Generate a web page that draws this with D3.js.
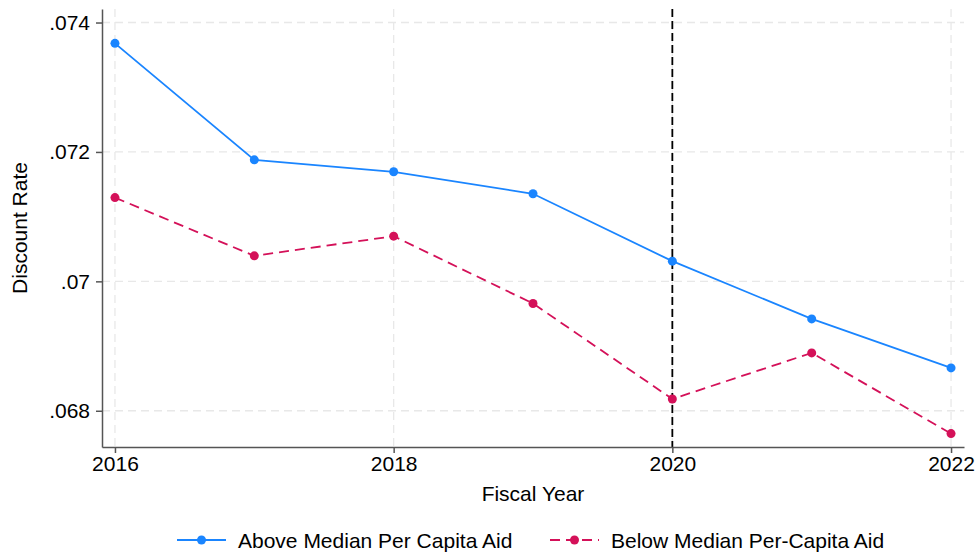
<!DOCTYPE html>
<html><head><meta charset="utf-8">
<script src="https://cdn.jsdelivr.net/npm/d3@7"></script>
<style>body{margin:0;background:#fff}svg{display:block}text{font-family:"Liberation Sans",Arial,sans-serif;fill:#000}</style>
</head><body><svg id="c" width="977" height="553"></svg>
<script>
const years = [2016, 2017, 2018, 2019, 2020, 2021, 2022];
const aboveMedian = [0.073678, 0.071878, 0.071693, 0.071353, 0.070312, 0.069420, 0.068662];
const belowMedian = [0.071294, 0.070394, 0.070698, 0.069658, 0.068182, 0.068894, 0.067647];
const xTicks = [2016, 2018, 2020, 2022];
const yTicks = [0.068, 0.070, 0.072, 0.074];
const yTickLabels = [".068", ".07", ".072", ".074"];
const seriesNames = ["Above Median Per Capita Aid", "Below Median Per-Capita Aid"];
const eventYear = 2020;

const FS = 21;
const svg = d3.select("#c");
const L = 102, R = 964, T = 9, B = 447;
const x = d3.scaleLinear().domain([2015.907, 2022.093]).range([L, R]);
const y = d3.scaleLinear().domain([0.06744, 0.074209]).range([B, T]);
const colors = ["#1A85FF", "#D41159"];

// grid
const g = svg.append("g");
g.selectAll(".hg").data(yTicks).enter().append("line")
  .attr("x1", L).attr("x2", R).attr("y1", d => y(d)).attr("y2", d => y(d))
  .attr("stroke", "#e8e8e8").attr("stroke-width", 1.3).attr("stroke-dasharray", "8,5");
g.selectAll(".vg").data(xTicks).enter().append("line")
  .attr("y1", T).attr("y2", B).attr("x1", d => x(d)).attr("x2", d => x(d))
  .attr("stroke", "#e8e8e8").attr("stroke-width", 1.3).attr("stroke-dasharray", "8,5");

// event line
svg.append("line").attr("x1", x(eventYear)).attr("x2", x(eventYear)).attr("y1", T).attr("y2", B)
  .attr("stroke", "#000").attr("stroke-width", 1.8).attr("stroke-dasharray", "8,4");

// axes
const xa = svg.append("g").attr("transform", `translate(0,${B})`)
  .call(d3.axisBottom(x).tickValues(xTicks).tickFormat(d3.format("d")).tickSize(6).tickPadding(3).tickSizeOuter(0));
const ya = svg.append("g").attr("transform", `translate(${L},0)`)
  .call(d3.axisLeft(y).tickValues(yTicks).tickFormat((d, i) => yTickLabels[i]).tickSize(6).tickPadding(6).tickSizeOuter(0));
[xa, ya].forEach(a => {
  a.attr("font-size", FS).attr("font-family", '"Liberation Sans",Arial,sans-serif');
  a.select(".domain").attr("stroke", "#555").attr("stroke-width", 1.5);
  a.selectAll(".tick line").attr("stroke", "#555").attr("stroke-width", 1.5);
  a.selectAll("text").attr("fill", "#000");
});

// series
const data = [aboveMedian, belowMedian];
data.forEach((vals, i) => {
  const line = d3.line().x((d, j) => x(years[j])).y(d => y(d));
  svg.append("path").datum(vals).attr("d", line).attr("fill", "none")
    .attr("stroke", colors[i]).attr("stroke-width", 1.8)
    .attr("stroke-dasharray", i === 1 ? "10,6" : null);
  svg.selectAll(".p" + i).data(vals).enter().append("circle")
    .attr("cx", (d, j) => x(years[j])).attr("cy", d => y(d)).attr("r", 4.5).attr("fill", colors[i]);
});

// titles
svg.append("text").attr("x", (L + R) / 2).attr("y", 501).attr("text-anchor", "middle").attr("font-size", FS).text("Fiscal Year");
svg.append("text").attr("transform", `translate(27,${(T + B) / 2}) rotate(-90)`).attr("text-anchor", "middle").attr("font-size", FS).text("Discount Rate");

// legend
const lg = [{x0: 177, tx: 238}, {x0: 550, tx: 611}];
lg.forEach((p, i) => {
  svg.append("line").attr("x1", p.x0).attr("x2", p.x0 + 49).attr("y1", 540).attr("y2", 540)
    .attr("stroke", colors[i]).attr("stroke-width", 1.8).attr("stroke-dasharray", i === 1 ? "10,6" : null);
  svg.append("circle").attr("cx", p.x0 + 24.5).attr("cy", 540).attr("r", 4.5).attr("fill", colors[i]);
  svg.append("text").attr("x", p.tx).attr("y", 547.5).attr("font-size", FS).text(seriesNames[i]);
});
</script></body></html>
